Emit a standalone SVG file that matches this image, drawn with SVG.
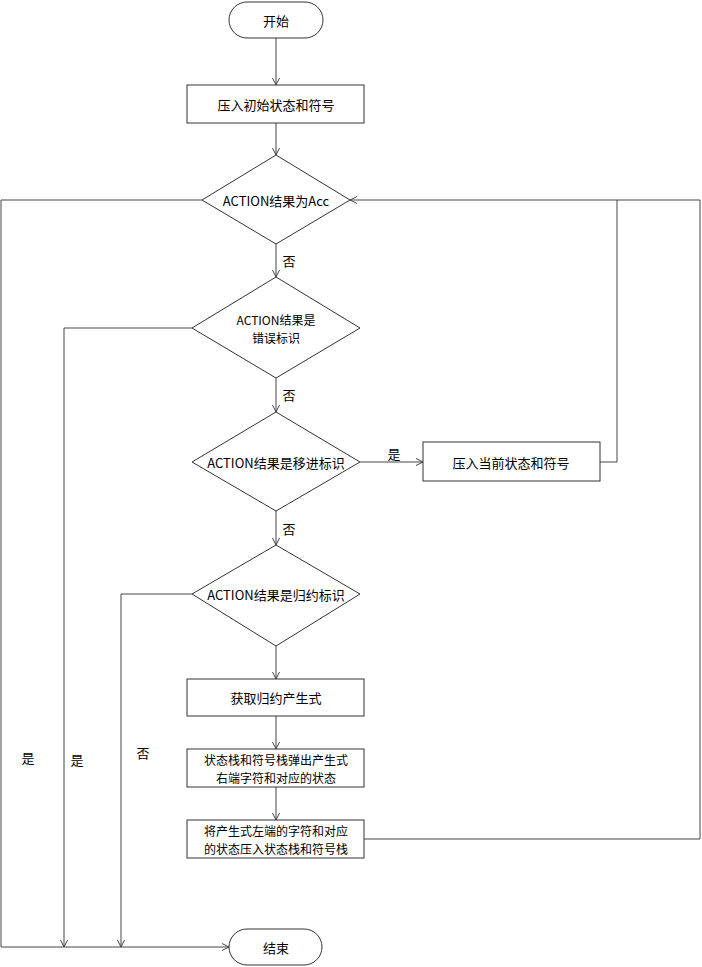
<svg xmlns="http://www.w3.org/2000/svg" width="702" height="967" viewBox="0 0 702 967">
<style>
.shape{fill:#fff;stroke:#333;stroke-width:1}
.edge{fill:none;stroke:#444;stroke-width:1}
text{font-family:"Noto Sans CJK SC","Liberation Sans",sans-serif;font-size:13px;fill:#000;text-anchor:middle;dominant-baseline:central}
text.two{font-size:12px}
</style>
<defs>
<marker id="arr" markerWidth="10" markerHeight="10" refX="8" refY="4" orient="auto" markerUnits="userSpaceOnUse">
<path d="M1,0.5 L8,4 L1,7.5" fill="none" stroke="#444" stroke-width="1"/>
</marker>
</defs>
<rect width="702" height="967" fill="#fff"/>
<g id="connectors">
<path class="edge" d="M276,38 V85" marker-end="url(#arr)"/>
<path class="edge" d="M276,123 V155" marker-end="url(#arr)"/>
<path class="edge" d="M276,244 V277" marker-end="url(#arr)"/>
<path class="edge" d="M276,378 V412" marker-end="url(#arr)"/>
<path class="edge" d="M276,511 V545" marker-end="url(#arr)"/>
<path class="edge" d="M276,646 V679" marker-end="url(#arr)"/>
<path class="edge" d="M276,716 V749" marker-end="url(#arr)"/>
<path class="edge" d="M276,787 V820" marker-end="url(#arr)"/>
<path class="edge" d="M360,462 H423" marker-end="url(#arr)"/>
<path class="edge" d="M600,462 H617 V200 H350" marker-end="url(#arr)"/>
<path class="edge" d="M364,839 H700 V200 H617"/>
<path class="edge" d="M202,200 H1 V947 H229" marker-end="url(#arr)"/>
<path class="edge" d="M192,328 H64 V947" marker-end="url(#arr)"/>
<path class="edge" d="M192,594 H121 V947" marker-end="url(#arr)"/>
<text x="289" y="260">否</text>
<text x="289" y="394">否</text>
<text x="394" y="453">是</text>
<text x="289" y="528">否</text>
<text x="28" y="757">是</text>
<text x="77" y="759">是</text>
<text x="143" y="752">否</text>
</g>
<g id="start">
<rect class="shape" x="229" y="2" width="94" height="36" rx="18" ry="18"/>
<text x="276" y="20">开始</text>
</g>
<g id="push-init">
<rect class="shape" x="187" y="85" width="177" height="38"/>
<text x="276" y="104">压入初始状态和符号</text>
</g>
<g id="is-acc">
<polygon class="shape" points="276,155 350,200 276,244 202,200"/>
<text x="276" y="200">ACTION结果为Acc</text>
</g>
<g id="is-error">
<polygon class="shape" points="276,277 360,328 276,378 192,328"/>
<text class="two" x="276" y="319">ACTION结果是</text>
<text class="two" x="276" y="337">错误标识</text>
</g>
<g id="is-shift">
<polygon class="shape" points="276,412 360,462 276,511 192,462"/>
<text x="276" y="462">ACTION结果是移进标识</text>
</g>
<g id="push-current">
<rect class="shape" x="423" y="442" width="177" height="39"/>
<text x="511" y="462">压入当前状态和符号</text>
</g>
<g id="is-reduce">
<polygon class="shape" points="276,545 360,594 276,646 192,594"/>
<text x="276" y="594">ACTION结果是归约标识</text>
</g>
<g id="get-production">
<rect class="shape" x="187" y="679" width="177" height="37"/>
<text x="276" y="697">获取归约产生式</text>
</g>
<g id="pop">
<rect class="shape" x="187" y="749" width="177" height="38"/>
<text class="two" x="276" y="759">状态栈和符号栈弹出产生式</text>
<text class="two" x="276" y="777">右端字符和对应的状态</text>
</g>
<g id="push-left">
<rect class="shape" x="187" y="820" width="177" height="38"/>
<text class="two" x="276" y="830">将产生式左端的字符和对应</text>
<text class="two" x="276" y="848">的状态压入状态栈和符号栈</text>
</g>
<g id="end">
<rect class="shape" x="229" y="929" width="93" height="36" rx="18" ry="18"/>
<text x="276" y="947">结束</text>
</g>
</svg>
